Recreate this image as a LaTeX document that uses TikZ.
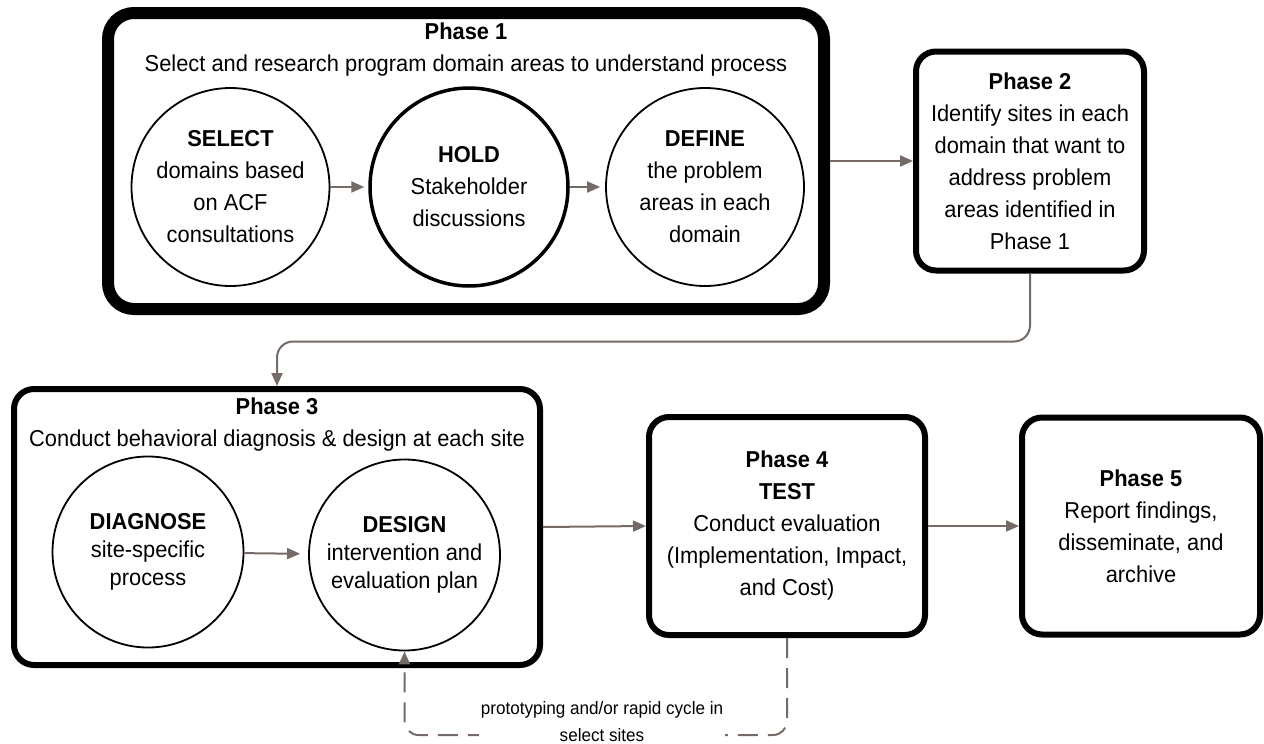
\documentclass[tikz,border=0pt]{standalone}
\usepackage{fontspec}
\setmainfont{Liberation Sans}[FakeStretch=0.95]
\usetikzlibrary{arrows.meta}
\definecolor{linkgray}{RGB}{118,106,102}

\begin{document}
\begin{tikzpicture}[
  x = 1pt, y = -1pt,
  every text node part/.style={align=center},
  every node/.style={font=\fontsize{23}{32}\selectfont},
  bigbox/.style={draw, rounded corners=26pt, line width=12pt, inner sep=0pt},
  phasebox/.style={draw, rounded corners=20pt, line width=6pt, inner sep=0pt},
  stagecirc/.style={draw, circle, line width=1.8pt, inner sep=0pt},
  link/.style={draw=linkgray, line width=2pt, -{Triangle[length=13pt,width=11pt]}},
  loopback/.style={link, dash pattern=on 20pt off 10pt}
]
\useasboundingbox (0,0) rectangle (1264,744);

%general params
\def\bigr{198pt}  %phase 1 circles
\def\smallr{191pt} %phase 3 circles

%Phase 1
\node[bigbox, minimum width=716pt, minimum height=296pt] (ph1) at (466,161) {};
\node (ph1title) at (466,50) {\textbf{Phase 1}\\Select and research program domain areas to understand process};
\node[stagecirc, minimum size=\bigr] (sel) at (230.5,187) {\textbf{SELECT}\\domains based\\on ACF\\consultations};
\node[stagecirc, minimum size=\bigr, line width=3.5pt] (hold) at (469,187) {\textbf{HOLD}\\Stakeholder\\discussions};
\node[stagecirc, minimum size=\bigr] (def) at (705,187) {\textbf{DEFINE}\\the problem\\areas in each\\domain};
\draw[link, shorten >=4pt] (sel) -- (hold);
\draw[link, shorten >=5pt] (hold) -- (def);

%Phase 2
\node[phasebox, minimum width=228pt, minimum height=219pt] (ph2) at (1030,161)
  {\textbf{Phase 2}\\Identify sites in each\\domain that want to\\address problem\\areas identified in\\Phase 1};

%Phase 3
\node[phasebox, minimum width=526pt, minimum height=276pt] (ph3) at (277,527) {};
\node (ph3title) at (277,425) {\textbf{Phase 3}\\Conduct behavioral diagnosis \& design at each site};
\node[stagecirc, minimum size=\smallr, font=\fontsize{23}{28}\selectfont] (diag) at (148,552) {\textbf{DIAGNOSE}\\site-specific\\process};
\node[stagecirc, minimum size=\smallr, font=\fontsize{23}{28}\selectfont] (des) at (404.5,555) {\textbf{DESIGN}\\intervention and\\evaluation plan};
\draw[link, shorten >=8pt] (diag) -- (des);

%Phase 4 and 5
\node[phasebox, minimum width=276pt, minimum height=218pt] (ph4) at (787,526)
  {\textbf{Phase 4}\\\textbf{TEST}\\Conduct evaluation\\(Implementation, Impact,\\and Cost)};
\node[phasebox, minimum width=238pt, minimum height=217pt] (ph5) at (1141,526)
  {\textbf{Phase 5}\\Report findings,\\disseminate, and\\archive};

%links between phases
\draw[link] (ph1.east) -- (ph2.west);
\draw[link, rounded corners=16pt] (ph2.south) -- ++(0,68) -| (ph3.north);
\draw[link] (ph3.east) -- (ph4.west);
\draw[link] (ph4.east) -- (ph5.west);

%feedback loop
\draw[loopback, rounded corners=14pt] (ph4.south) -- ++(0,97) -| (des.south);
\node[fill=white, inner sep=2pt, font=\fontsize{18}{27}\selectfont] (cycle) at (602,722)
  {prototyping and/or rapid cycle in\\select sites};

\end{tikzpicture}
\end{document}
